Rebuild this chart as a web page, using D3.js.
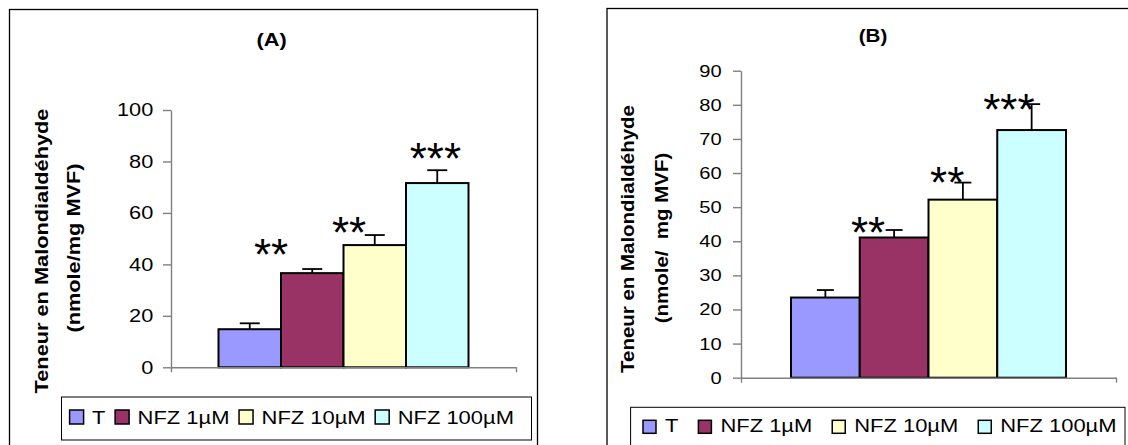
<!DOCTYPE html>
<html>
<head>
<meta charset="utf-8">
<script src="https://cdn.jsdelivr.net/npm/d3@7"></script>
<style>
  html, body { margin: 0; padding: 0; background: #fff; }
  svg { display: block; }
  text { font-family: "Liberation Sans", Arial, sans-serif; fill: #000; white-space: pre; }
</style>
</head>
<body>
<svg id="chart" width="1128" height="445"></svg>
<script>
// ---------- data ----------
const categories = ["T", "NFZ 1µM", "NFZ 10µM", "NFZ 100µM"];
const colors = ["#9999FF", "#993366", "#FFFFCC", "#CCFFFF"];

const valuesA = [14.8, 36.6, 47.5, 71.6];
const errorsA = [2.3, 1.6, 3.9, 5.0];
const starsA = ["", "**", "**", "***"];
const starLevelA = [null, 48.0, 56.4, 85.1];
const ticksA = [0, 20, 40, 60, 80, 100];

const valuesB = [23.5, 41.1, 52.2, 72.6];
const errorsB = [2.2, 2.2, 5.0, 7.6];
const starsB = ["", "**", "**", "***"];
const starLevelB = [null, 45.7, 60.3, 81.8];
const ticksB = [0, 10, 20, 30, 40, 50, 60, 70, 80, 90];

const titleA = "(A)";
const titleB = "(B)";
const yLabel1 = "Teneur en Malondialdéhyde";
const yLabel2A = "(nmole/mg MVF)";
const yLabel2B = "(nmole/  mg MVF)";

// ---------- drawing ----------
const svg = d3.select("#chart");
svg.append("rect").attr("width", 1128).attr("height", 445).attr("fill", "#fff");

function drawPanel(c) {
  const g = svg.append("g");
  // frame
  g.append("rect")
    .attr("x", c.frame[0]).attr("y", c.frame[1])
    .attr("width", c.frame[2] - c.frame[0]).attr("height", c.frame[3] - c.frame[1])
    .attr("fill", "none").attr("stroke", "#000").attr("stroke-width", 1.3);

  const y = d3.scaleLinear().domain(c.domain).range([c.y0, c.yTop]);
  const x = d3.scaleBand().domain(categories).range([c.left, c.right])
    .paddingInner(0).paddingOuter(c.padOuter);

  // title
  g.append("g").attr("transform", `translate(${c.titleX},${c.titleY})`)
    .append("text").attr("text-anchor", "middle")
    .attr("transform", `scale(${c.sx},1)`)
    .style("font-weight", "bold").style("font-size", c.titleSize + "px")
    .text(c.title);

  // y label
  [[c.yl1X, c.yl1Y, yLabel1], [c.yl2X, c.yl2Y, c.yLabel2]].forEach(([lx, ly, t]) => {
    g.append("g").attr("transform", `translate(${lx},${ly}) rotate(-90)`)
      .append("text").attr("text-anchor", "middle")
      .attr("transform", `scale(${c.sx},1)`)
      .style("font-weight", "bold").style("font-size", c.labelSize + "px")
      .text(t);
  });

  // bars
  g.selectAll("rect.bar").data(c.values).enter().append("rect")
    .attr("class", "bar")
    .attr("x", (d, i) => x(categories[i]))
    .attr("y", d => y(d))
    .attr("width", x.bandwidth())
    .attr("height", d => y(0) - y(d))
    .attr("fill", (d, i) => colors[i])
    .attr("stroke", "#000").attr("stroke-width", 2);

  // error bars
  c.values.forEach((v, i) => {
    const cx = x(categories[i]) + x.bandwidth() / 2;
    const top = y(v + c.errors[i]);
    g.append("line").attr("x1", cx).attr("x2", cx).attr("y1", y(v)).attr("y2", top)
      .attr("stroke", "#000").attr("stroke-width", 1.8);
    g.append("line").attr("x1", cx - c.cap).attr("x2", cx + c.cap).attr("y1", top).attr("y2", top)
      .attr("stroke", "#000").attr("stroke-width", 1.8);
  });

  // y axis
  const ya = g.append("g").attr("transform", `translate(${c.left},0)`)
    .call(d3.axisLeft(y).tickValues(c.ticks).tickSize(8).tickSizeOuter(0));
  ya.select(".domain").attr("stroke", "#808080").attr("stroke-width", 1.4);
  ya.selectAll(".tick line").attr("stroke", "#808080").attr("stroke-width", 1.4);
  ya.selectAll(".tick text")
    .attr("x", -c.tickGap / c.sx)
    .attr("transform", `scale(${c.sx},1)`)
    .style("font-size", c.tickSize + "px")
    .style("font-family", '"Liberation Sans", Arial, sans-serif')
    .attr("fill", "#000");

  // x axis (category axis, ticks at both ends)
  const xl = d3.scaleLinear().domain([0, 1]).range([c.left, c.right]);
  const xa = g.append("g").attr("transform", `translate(0,${c.y0})`)
    .call(d3.axisBottom(xl).tickValues([0, 1]).tickFormat("").tickSize(5).tickSizeOuter(0));
  xa.select(".domain").attr("stroke", "#808080").attr("stroke-width", 1.4);
  xa.selectAll(".tick line").attr("stroke", "#808080").attr("stroke-width", 1.4);

  // significance stars
  c.stars.forEach((s, i) => {
    if (!s) return;
    const cx = x(categories[i]) + x.bandwidth() / 2 + c.starDx[i] * x.bandwidth();
    const cy = y(c.starLevel[i]);
    g.append("text").attr("x", cx).attr("y", cy + 0.59 * c.starSize)
      .attr("text-anchor", "middle")
      .style("font-size", c.starSize + "px")
      .text(s);
  });

  // legend
  g.append("rect")
    .attr("x", c.legBox[0]).attr("y", c.legBox[1])
    .attr("width", c.legBox[2] - c.legBox[0]).attr("height", c.legBox[3] - c.legBox[1])
    .attr("fill", "#fff").attr("stroke", "#000").attr("stroke-width", 1);
  let cursor = c.legStart;
  categories.forEach((cat, i) => {
    g.append("rect").attr("x", cursor).attr("y", c.swY)
      .attr("width", c.sw).attr("height", c.sw)
      .attr("fill", colors[i]).attr("stroke", "#000").attr("stroke-width", 1.5);
    const tx = cursor + c.textOff;
    const t = g.append("g").attr("transform", `translate(${tx},${c.legBase})`)
      .append("text").attr("transform", `scale(${c.legSx},1)`)
      .style("font-size", c.legSize + "px").text(cat);
    const w = t.node().getComputedTextLength() * c.legSx;
    cursor = tx + w + c.legGap;
  });
}

drawPanel({
  frame: [9.5, 9.5, 537.5, 460],
  domain: [0, 100], ticks: ticksA, y0: 367.3, yTop: 110,
  left: 171, right: 516, padOuter: 0.76,
  values: valuesA, errors: errorsA, cap: 10,
  stars: starsA, starLevel: starLevelA, starDx: [0, -0.66, -0.41, -0.03], starSize: 44,
  title: titleA, titleX: 271.7, titleY: 45.5, titleSize: 18.6, sx: 1.17,
  yLabel2: yLabel2A, labelSize: 18.6, yl1X: 47.5, yl1Y: 251, yl2X: 80, yl2Y: 248,
  tickSize: 18.6, tickGap: 17.7,
  legBox: [61.5, 397, 531.5, 440], legStart: 69.6, swY: 410, sw: 14, textOff: 22.5,
  legBase: 423.5, legSize: 18.6, legSx: 1.18, legGap: 9.6
});

drawPanel({
  frame: [607, 8.5, 1140, 460],
  domain: [0, 90], ticks: ticksB, y0: 377.7, yTop: 70.7,
  left: 741, right: 1116, padOuter: 0.727,
  values: valuesB, errors: errorsB, cap: 8.5,
  stars: starsB, starLevel: starLevelB, starDx: [0, -0.378, -0.228, -0.33], starSize: 44,
  title: titleB, titleX: 873, titleY: 41.5, titleSize: 17.6, sx: 1.17,
  yLabel2: yLabel2B, labelSize: 17.5, yl1X: 634, yl1Y: 239, yl2X: 668, yl2Y: 238,
  tickSize: 17.2, tickGap: 19.3,
  legBox: [630.6, 407.3, 1125, 470], legStart: 643, swY: 420.3, sw: 13, textOff: 22,
  legBase: 432, legSize: 18.6, legSx: 1.18, legGap: 20
});
</script>
</body>
</html>
